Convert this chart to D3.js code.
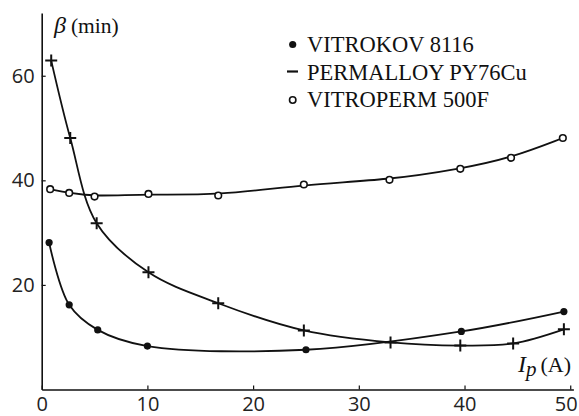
<!DOCTYPE html>
<html>
<head>
<meta charset="utf-8">
<script src="https://cdn.jsdelivr.net/npm/d3@7"></script>
<style>
  body { margin: 0; background: #fff; }
  .tick text { font-family: "Open Sans", "Noto Sans", sans-serif; font-size: 20px; fill: #222; }
  .serif { font-family: "Liberation Serif", "DejaVu Serif", serif; fill: #111; }
</style>
</head>
<body>
<svg id="chart" width="579" height="416"></svg>
<script>
// current values (A)
const vitrokovX = [0.7, 2.6, 5.3, 10, 25, 39.7, 49.4];
const vitrokovY = [28.1, 16.2, 11.4, 8.3, 7.6, 11.1, 14.9];

const permalloyX = [0.9, 2.7, 5.2, 10.1, 16.7, 24.8, 33, 39.6, 44.6, 49.4];
const permalloyY = [62.9, 48.1, 31.8, 22.4, 16.5, 11.3, 9.0, 8.4, 8.8, 11.5];

const vitropermX = [0.8, 2.6, 5.0, 10.1, 16.7, 24.8, 32.9, 39.6, 44.4, 49.3];
const vitropermY = [38.3, 37.6, 36.9, 37.4, 37.1, 39.2, 40.1, 42.2, 44.3, 48.1];

const seriesNames = ["VITROKOV 8116", "PERMALLOY PY76Cu", "VITROPERM 500F"];
const xTicks = [0, 10, 20, 30, 40, 50];
const yTicks = [20, 40, 60];

const svg = d3.select("#chart");

const x = d3.scaleLinear().domain([0, 50.3]).range([41.7, 573.4]);
const y = d3.scaleLinear().domain([0, 72]).range([389.5, 13]);

// axes with inward ticks
const xAxis = svg.append("g")
  .attr("transform", `translate(0,${y(0)})`)
  .call(d3.axisBottom(x).tickValues(xTicks).tickSize(-4).tickSizeOuter(0).tickPadding(7));

const yAxis = svg.append("g")
  .attr("transform", `translate(${x(0)},0)`)
  .call(d3.axisLeft(y).tickValues(yTicks).tickSize(-4).tickSizeOuter(0).tickPadding(7));

[xAxis, yAxis].forEach(g => {
  g.select(".domain").attr("stroke", "#111").attr("stroke-width", 1.6);
  g.selectAll(".tick line").attr("stroke", "#111").attr("stroke-width", 1.2);
});
// keep the last label inside the frame
xAxis.selectAll(".tick text").filter(d => d === 50).attr("text-anchor", "end").attr("dx", 7);

const series = [
  { xs: vitrokovX, ys: vitrokovY, marker: "dot", curve: d3.curveCatmullRom.alpha(0.5) },
  { xs: permalloyX, ys: permalloyY, marker: "plus", curve: d3.curveCatmullRom.alpha(0.5) },
  { xs: vitropermX, ys: vitropermY, marker: "ring", curve: d3.curveBasis }
];

series.forEach(s => {
  const pts = s.xs.map((v, i) => [v, s.ys[i]]);

  const line = d3.line()
    .x(d => x(d[0]))
    .y(d => y(d[1]))
    .curve(s.curve);

  svg.append("path")
    .datum(pts)
    .attr("d", line)
    .attr("fill", "none")
    .attr("stroke", "#111")
    .attr("stroke-width", 1.8);

  const m = svg.append("g").selectAll("g")
    .data(pts)
    .enter().append("g")
    .attr("transform", d => `translate(${x(d[0])},${y(d[1])})`);

  if (s.marker === "dot") {
    m.append("circle").attr("r", 3.6).attr("fill", "#111");
  } else if (s.marker === "ring") {
    m.append("circle").attr("r", 3.3).attr("fill", "#fff")
      .attr("stroke", "#111").attr("stroke-width", 1.6);
  } else {
    m.append("path").attr("d", "M-6,0H6M0,-6V6")
      .attr("stroke", "#111").attr("stroke-width", 2);
  }
});

// legend
const legend = svg.append("g");
const rowY = [52, 80, 107];
seriesNames.forEach((name, i) => {
  const cy = rowY[i] - 7.5;
  if (i === 0) {
    legend.append("circle").attr("cx", 292.7).attr("cy", cy).attr("r", 3.6).attr("fill", "#111");
  } else if (i === 1) {
    legend.append("line").attr("x1", 287).attr("x2", 298).attr("y1", cy - 1).attr("y2", cy - 1)
      .attr("stroke", "#111").attr("stroke-width", 2.2);
  } else {
    legend.append("circle").attr("cx", 292.7).attr("cy", cy + 0.5).attr("r", 3.2)
      .attr("fill", "#fff").attr("stroke", "#111").attr("stroke-width", 1.6);
  }
  legend.append("text")
    .attr("class", "serif")
    .attr("x", 307)
    .attr("y", rowY[i])
    .style("font-size", "22.5px")
    .text(name);
});

// axis titles
const yTitle = svg.append("text").attr("class", "serif").attr("x", 54).attr("y", 33);
yTitle.append("tspan").style("font-style", "italic").style("font-size", "24px").text("β");
yTitle.append("tspan").attr("dx", 5).style("font-size", "21.5px").text("(min)");

const xTitle = svg.append("text").attr("class", "serif").attr("x", 518).attr("y", 372);
xTitle.append("tspan").style("font-style", "italic").style("font-size", "24px").text("I");
xTitle.append("tspan").attr("dy", 4).style("font-style", "italic").style("font-size", "21px").text("p");
xTitle.append("tspan").attr("dy", -4).attr("dx", 4).style("font-size", "22px").text("(A)");
</script>
</body>
</html>
